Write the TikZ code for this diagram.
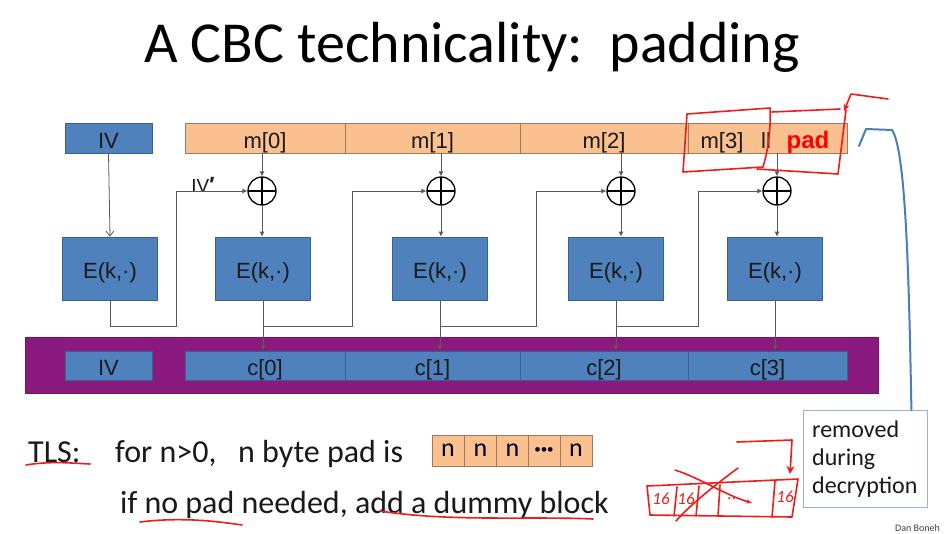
\documentclass[tikz,border=0pt]{standalone}
\usepackage{fontspec}
\setmainfont{Carlito}
\newfontfamily\arialf{Liberation Sans}
\usetikzlibrary{arrows.meta}
\definecolor{boxblue}{HTML}{4F81BD}
\definecolor{boxedge}{HTML}{3A5F8C}
\definecolor{msgfill}{HTML}{FAC090}
\definecolor{msgedge}{HTML}{9C7A5A}
\definecolor{bandc}{HTML}{8A1A7E}
\definecolor{lineg}{HTML}{595959}
\definecolor{ink}{HTML}{EE1C1C}
\definecolor{pen}{HTML}{4A7EBB}
\definecolor{notebd}{HTML}{95B3D7}
\tikzset{
  lbl/.style={font=\arialf\fontsize{22}{26}\selectfont, text=black!90},
  boxlbl/.style={lbl, text height=20pt, text depth=0pt},
  bluebox/.style={draw=boxedge, fill=boxblue, line width=0.8pt, inner sep=0, boxlbl},
  ebox/.style={bluebox, minimum width=95, minimum height=63},
  cbox/.style={bluebox, minimum height=29},
  cell/.style={draw=msgedge, fill=msgfill, line width=0.8pt, inner sep=0, minimum height=30, boxlbl},
  padcell/.style={draw=msgedge, fill=msgfill, line width=0.8pt, inner sep=0, minimum height=31, minimum width=32, font=\fontsize{26}{30}\selectfont},
  xorn/.style={circle, draw=black, line width=1.3pt, minimum size=28, inner sep=0,
    path picture={\draw[line width=1.3pt] (path picture bounding box.north) -- (path picture bounding box.south)
      (path picture bounding box.west) -- (path picture bounding box.east);}},
  conn/.style={draw=lineg, line width=0.8pt, -{Latex[length=5pt,width=5pt]}},
  ivarrow/.style={draw=lineg, line width=0.8pt, -{Straight Barb[length=5pt,width=8pt]}},
  redink/.style={draw=ink, line width=1.6pt, line cap=round, line join=round},
  redtxt/.style={text=ink, font=\itshape\fontsize{17}{20}\selectfont, inner sep=0},
  body/.style={font=\fontsize{32}{38}\selectfont, inner sep=0, text=black!90},
}
\begin{document}
\begin{tikzpicture}[x=1pt,y=-1pt]
\useasboundingbox[fill=white] (0,0) rectangle (944,533);

% title
\node[font=\fontsize{58}{64}\selectfont, anchor=base, inner sep=0] (title) at (472,62) {A CBC technicality:\ \ padding};

% top row
\node[bluebox, minimum width=87, minimum height=30] (iv) at (108.5,138) {IV};
\node[cell, minimum width=160] (m0) at (265,138) {m[0]};
\node[cell, minimum width=175] (m1) at (432.5,138) {m[1]};
\node[cell, minimum width=168] (m2) at (604,138) {m[2]};
\node[cell, minimum width=159] (m3) at (767.5,138) {};
\node[boxlbl, inner sep=0] (m3t) at (722,138) {m[3]};
\node[boxlbl, inner sep=0] (cat) at (766,138) {ll};
\node[boxlbl, inner sep=0, text=red, font=\arialf\bfseries\fontsize{24}{28}\selectfont] (padt) at (808,138) {pad};

% xors
\node[xorn] (x0) at (262,191) {};
\node[xorn] (x1) at (441,191) {};
\node[xorn] (x2) at (621,191) {};
\node[xorn] (x3) at (777,191) {};

% E boxes
\node[ebox] (e0) at (110,268.5) {E(k,·)};
\node[ebox] (e1) at (263,268.5) {E(k,·)};
\node[ebox] (e2) at (440,268.5) {E(k,·)};
\node[ebox] (e3) at (616,268.5) {E(k,·)};
\node[ebox] (e4) at (775,268.5) {E(k,·)};

% IV' label
\node[lbl, font=\arialf\fontsize{19}{22}\selectfont, inner sep=0] (ivp) at (203,185) {IV{\bfseries\fontsize{22}{22}\selectfont ′}};

% purple band and ciphertext row
\node[fill=bandc, draw=bandc!80!black, line width=0.6pt, minimum width=853, minimum height=56, inner sep=0] (band) at (451.5,365) {};
\node[cbox, minimum width=87] (ivc) at (108.5,365.5) {IV};
\node[cbox, minimum width=160] (c0) at (265,365.5) {c[0]};
\node[cbox, minimum width=175] (c1) at (432.5,365.5) {c[1]};
\node[cbox, minimum width=168] (c2) at (604,365.5) {c[2]};
\node[cbox, minimum width=159] (c3) at (767.5,365.5) {c[3]};

% junctions
\coordinate (j0) at (176,326);
\coordinate (j1) at (352,326);
\coordinate (j2) at (536,326);
\coordinate (j3) at (698,326);

% connectors
\draw[ivarrow] (iv.south) -- (e0.north);
\draw[conn] (m0.south -| x0) -- (x0.north);
\draw[conn] (m1.south -| x1) -- (x1.north);
\draw[conn] (m2.south -| x2) -- (x2.north);
\draw[conn] (m3.south -| x3) -- (x3.north);
\draw[conn] (x0.south) -- (x0.south |- e1.north);
\draw[conn] (x1.south) -- (x1.south |- e2.north);
\draw[conn] (x2.south) -- (x2.south |- e3.north);
\draw[conn] (x3.south) -- (x3.south |- e4.north);
\draw[conn] (e0.south) |- (j0) |- (x0.west);
\draw[conn] (e1.south) -- (e1.south |- c0.north);
\draw[conn] (e1.south |- j1) -- (j1) |- (x1.west);
\draw[conn] (e2.south) -- (e2.south |- c1.north);
\draw[conn] (e2.south |- j2) -- (j2) |- (x2.west);
\draw[conn] (e3.south) -- (e3.south |- c2.north);
\draw[conn] (e3.south |- j3) -- (j3) |- (x3.west);
\draw[conn] (e4.south) -- (e4.south |- c3.north);

% bottom text
\node[body, anchor=base west] (tls) at (28,462) {TLS:};
\node[body, anchor=base west] (forn) at (115,462) {for n>0,};
\node[body, anchor=base west] (nbyte) at (238,462) {n byte pad is};
\node[padcell] (p0) at (448,450.5) {n};
\node[padcell] (p1) at (480.5,450.5) {n};
\node[padcell] (p2) at (512.5,450.5) {n};
\node[padcell] (p3) at (544,450.5) {{\fontsize{13}{13}\selectfont •••}};
\node[padcell] (p4) at (576,450.5) {n};
\node[body, anchor=base west] (nopad) at (120,513) {if no pad needed, add a dummy block};

% note box
\node[draw=notebd, fill=white, line width=0.8pt, minimum width=124, minimum height=97, inner sep=0, anchor=north west] (note) at (803,410) {};
\node[anchor=base west, font=\fontsize{24}{28}\selectfont, inner sep=0, text=black!90] (n1) at (812,437) {removed};
\node[anchor=base west, font=\fontsize{24}{28}\selectfont, inner sep=0, text=black!90] (n2) at (812,465) {during};
\node[anchor=base west, font=\fontsize{24}{28}\selectfont, inner sep=0, text=black!90] (n3) at (812,493) {decryption};

% credit
\node[anchor=base east, font=\fontsize{10}{12}\selectfont, inner sep=0, text=black!75] (credit) at (940,531) {Dan Boneh};

% blue hand-drawn hook
\draw[draw=pen, line width=2pt, line cap=round, line join=round]
  ([xshift=46]note.north) .. controls (909,280) and (906,150) .. (892,130) -- (866,129) -- (859,146);

% red annotations
\draw[redink] (687,114) -- (770,108) .. controls (771,130) and (768,150) .. (763,167) -- (683,172) -- cycle;
\draw[redink] (772,112) -- (840,109);
\draw[redink] (757,169) -- (838,174) -- (846,110);
\draw[redink, -{Stealth[length=7pt,width=6pt]}] (888,99) -- (851,94) -- (844,111);
\draw[redink] (26,465) .. controls (50,461) and (70,463) .. (90,464);
\draw[redink] (140,522) .. controls (180,517) and (215,521) .. (242,525);
\draw[redink] (380,511) .. controls (450,522) and (530,516) .. (593,519);
\draw[redink] (647,486) -- (798,479) -- (792,517) -- (650,515) -- cycle;
\draw[redink] (677,487) -- (674,516);
\draw[redink] (699,486) -- (696,516);
\draw[redink] (720,485) -- (718,516);
\draw[redink] (775,481) -- (772,517);
\draw[redink, -{Stealth[length=6pt]}] (675,470) .. controls (700,478) and (725,495) .. (752,503);
\draw[redink] (738,468) .. controls (715,485) and (690,505) .. (676,521);
\draw[redink, -{Stealth[length=8pt,width=8pt]}] (737,442) -- (792,440) -- (790,474);
\node[redtxt] (s0) at (661,499) {16};
\node[redtxt] (s1) at (686,499) {16};
\node[redtxt] (s2) at (732,499) {..};
\node[redtxt] (s3) at (785,497) {16};
\end{tikzpicture}
\end{document}
